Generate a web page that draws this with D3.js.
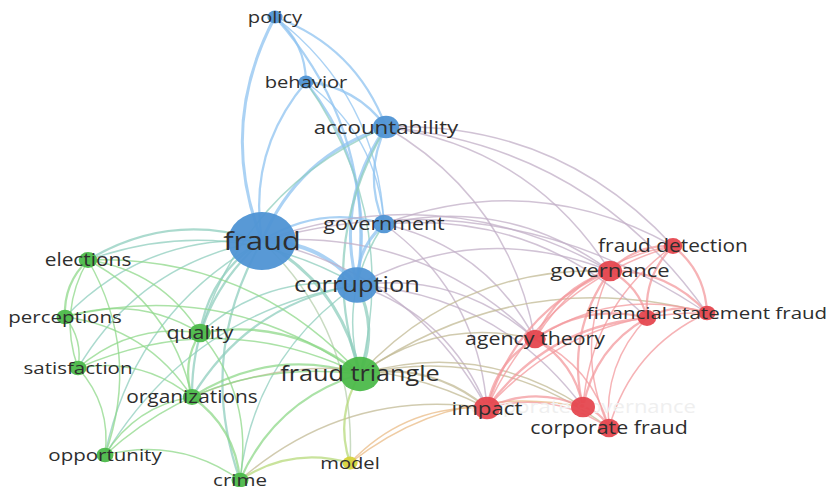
<!DOCTYPE html>
<html><head><meta charset="utf-8">
<script src="https://cdn.jsdelivr.net/npm/d3@7"></script>
<style>html,body{margin:0;padding:0;background:#fff;}svg{display:block;}</style>
</head><body>
<svg id="chart" width="826" height="487"></svg>
<script>
// ---- data ----
const nodeNames = ["policy","behavior","accountability","fraud","government","corruption",
  "elections","perceptions","quality","satisfaction","organizations","fraud triangle",
  "opportunity","crime","model","fraud detection","governance","","financial statement fraud",
  "agency theory","impact","corporate governance","corporate fraud"];
const nodeCluster = [0,0,0,0,0,0, 1,1,1,1,1,1, 1,1,3, 2,2,2,2, 2,2,2,2];
const nodeWeight = [2,2,6,40,4,15, 3,2.5,4,2.5,3,14, 2.5,2.5,2, 3,5,3,2.5, 4,6,5,4];
const mapX = [-1.38,-1.07,-0.27,-1.51,-0.29,-0.56, -3.25,-3.48,-2.13,-3.35,-2.21,-0.53, -3.08,-1.73,-0.63, 2.60,1.97,2.34,2.94, 1.22,0.74,1.70,1.96];
const mapY = [2.26,1.61,1.16,0.02,0.19,-0.42, -0.17,-0.74,-0.90,-1.25,-1.54,-1.31, -2.12,-2.37,-2.20, -0.03,-0.28,-0.75,-0.70, -0.96,-1.65,-1.64,-1.85];
const hiddenLabel = [21]; // label drawn faded behind the nodes

const linkSource = [0,0,0,0,0, 1,1,1,1,1, 2,2,2,2,2,2,2,2,2,
  3,3,3,3,3,3,3,3,3,3,3,3,3,3,3, 4,4,4,4,4,4,4, 5,5,5,5,5,5,5,5,5,5,
  6,6,6,6,6,6, 7,7,7,7, 9,9,9,9, 8,8,8, 10,10,10,10, 12,12, 13,13,13,
  11,11,11,11,11,11,11, 14,14,
  15,15,15,15,15,15, 16,16,16,16,16,16, 17,17,17,17,17, 18,18,18, 19,19,19, 20,20, 21];
const linkTarget = [1,3,2,5,4, 2,3,5,4,11, 3,4,5,11,16,15,19,18,8,
  4,5,11,6,7,8,9,10,12,13,16,19,20,18,14, 5,16,15,19,17,11,20, 11,8,10,20,19,16,13,12,21,6,
  7,9,8,10,11,12, 9,8,10,11, 8,10,12,11, 10,11,13, 11,13,12,20, 13,11, 11,14,20,
  14,20,19,16,21,18,22, 20,21,
  16,18,17,19,21,20, 18,17,19,20,21,22, 18,19,20,21,22, 19,22,20, 20,21,22, 21,22, 22];
const linkStrength = [2,3,2,2,1, 2,2,2,1,1, 3,2,3,2,1,1,1,1,1,
  2,4,3,2,1,2,1,2,1,2,1,1,1,1,1, 3,1,1,1,1,1,1, 3,1,2,1,1,1,1,1,1,1,
  2,1,1,1,1,1, 1,1,1,1, 1,1,1,1, 2,2,1, 2,2,1,1, 1,1, 2,2,1,
  2,2,1,1,1,1,1, 1,1,
  2,2,2,1,1,1, 2,2,2,2,2,1, 2,2,2,2,1, 1,1,1, 2,2,1, 2,1, 2];

// ---- chart ----
const W = 826, H = 487;
const svg = d3.select("#chart");
const x = d3.scaleLinear().domain([-4.13, 4.13]).range([0, W]);
const y = d3.scaleLinear().domain([2.43, -2.44]).range([0, H]);
const rScale = d3.scaleSqrt().domain([0, 40]).range([0, 29]);
const fontScale = d3.scaleLinear().domain([6, 29]).range([16.6, 25.6]);
const widthScale = d3.scaleLinear().domain([1, 4]).range([1.5, 3.8]);

const nodeFill = ["#4f94d4", "#4cb94a", "#e5474f", "#d6d33c"];
const edgeCol = ["#8fc3f0", "#8fd88a", "#f39a9e", "#dedb6c"];

const nodes = nodeNames.map((n, i) => ({
  name: n, i, c: nodeCluster[i], px: x(mapX[i]), py: y(mapY[i]), r: rScale(nodeWeight[i])
}));
const links = linkSource.map((s, i) => ({ s: nodes[s], t: nodes[linkTarget[i]], w: linkStrength[i] }));

function linkPath(d) {
  let a = d.s, b = d.t;
  if (a.px > b.px) { const tmp = a; a = b; b = tmp; }
  const dx = b.px - a.px, dy = b.py - a.py;
  const k = 0.23;
  const cx = (a.px + b.px) / 2 + dy * k;
  const cy = (a.py + b.py) / 2 - dx * k;
  return `M${a.px},${a.py}Q${cx},${cy} ${b.px},${b.py}`;
}
function linkColor(d) {
  if (d.s.c === d.t.c) return edgeCol[d.s.c];
  return d3.interpolateRgb(edgeCol[d.s.c], edgeCol[d.t.c])(0.5);
}

svg.append("g").attr("fill", "none")
  .selectAll("path").data(links).join("path")
  .attr("d", linkPath)
  .attr("stroke", linkColor)
  .attr("stroke-opacity", 0.75)
  .attr("stroke-width", d => widthScale(d.w));

const fontSize = d => fontScale(Math.max(6, d.r)).toFixed(1) + "px";

// faded label (behind nodes)
svg.append("g").attr("font-family", "'Open Sans', sans-serif")
  .selectAll("text").data(nodes.filter(d => hiddenLabel.includes(d.i))).join("text")
  .attr("transform", d => `translate(${d.px},${d.py}) scale(1.2,1)`)
  .attr("text-anchor", "middle").attr("dy", "0.35em")
  .attr("font-size", fontSize)
  .attr("fill", "#efefef")
  .text(d => d.name);

svg.append("g").selectAll("ellipse").data(nodes).join("ellipse")
  .attr("cx", d => d.px).attr("cy", d => d.py)
  .attr("rx", d => d.r * 1.17).attr("ry", d => d.r)
  .attr("fill", d => nodeFill[d.c])
  .attr("fill-opacity", 0.95);

svg.append("g").attr("font-family", "'Open Sans', sans-serif")
  .selectAll("text").data(nodes.filter(d => !hiddenLabel.includes(d.i))).join("text")
  .attr("transform", d => `translate(${d.px},${d.py}) scale(1.2,1)`)
  .attr("text-anchor", "middle").attr("dy", "0.35em")
  .attr("font-size", fontSize)
  .attr("fill", "#2e2e2e")
  .text(d => d.name);
</script>
</body></html>
